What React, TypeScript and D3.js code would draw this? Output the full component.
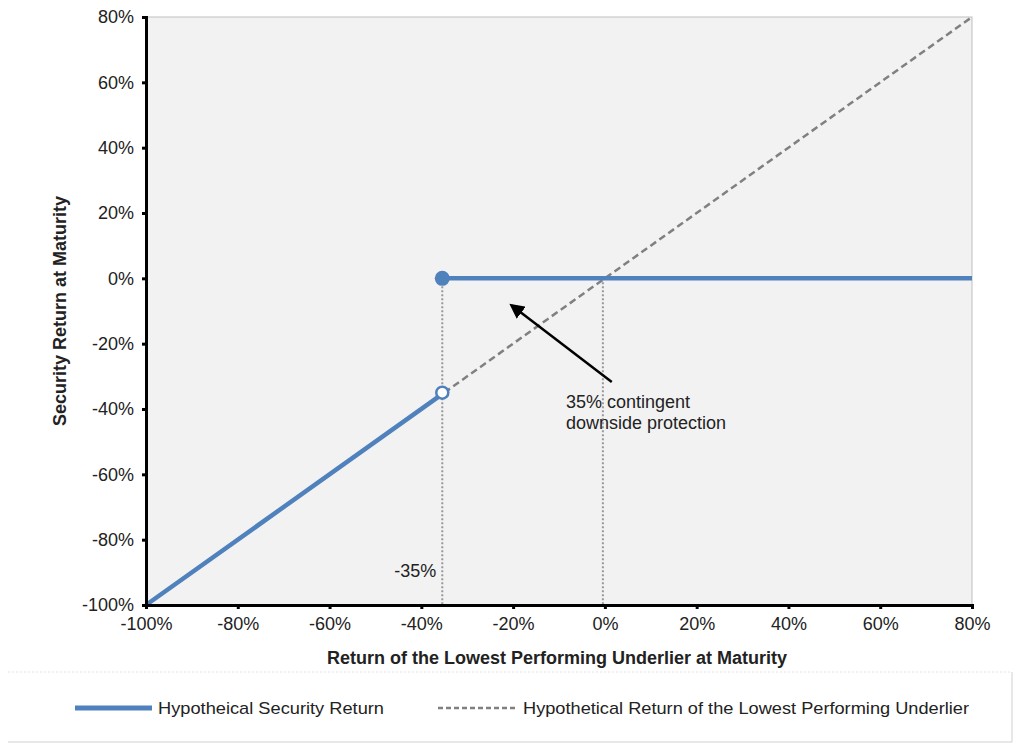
import * as d3 from "d3";
import { useEffect, useRef } from "react";

// payoff data (percent)
const securityLower: [number, number][] = [[-100, -100], [-35, -35]];
const securityUpper: [number, number][] = [[-35, 0], [80, 0]];
const underlier: [number, number][] = [[-35, -35], [80, 80]];
const barrierX = [-35, 0];
const xTicks = [-100, -80, -60, -40, -20, 0, 20, 40, 60, 80];
const yTicks = [-100, -80, -60, -40, -20, 0, 20, 40, 60, 80];

const BLUE = "#4f81bd";
const FONT = "Arial, 'Liberation Sans', sans-serif";
const FS = "18px";

const W = 1024;
const H = 745;
const margin = { left: 146, right: 52, top: 17, bottom: 140 };

export default function App() {
  const ref = useRef<SVGSVGElement>(null);

  useEffect(() => {
    const svg = d3.select(ref.current);
    svg.selectAll("*").remove();

    const x = d3.scaleLinear().domain([-100, 80]).range([margin.left, W - margin.right]);
    const y = d3.scaleLinear().domain([-100, 80]).range([H - margin.bottom, margin.top]);

    svg.append("rect").attr("width", W).attr("height", H).attr("fill", "#fff");

    // plot background with light frame
    svg
      .append("rect")
      .attr("x", x(-100))
      .attr("y", y(80))
      .attr("width", x(80) - x(-100))
      .attr("height", y(-100) - y(80))
      .attr("fill", "#f2f2f2")
      .attr("stroke", "#bfbfbf")
      .attr("stroke-width", 1);

    const defs = svg.append("defs");
    defs
      .append("marker")
      .attr("id", "arrowhead")
      .attr("viewBox", "0 0 10 10")
      .attr("refX", 8)
      .attr("refY", 5)
      .attr("markerWidth", 6)
      .attr("markerHeight", 6)
      .attr("markerUnits", "strokeWidth")
      .attr("orient", "auto")
      .append("path")
      .attr("d", "M0,0 L10,5 L0,10 z")
      .attr("fill", "#000");

    // dotted reference lines
    svg
      .selectAll("line.ref")
      .data(barrierX)
      .join("line")
      .attr("class", "ref")
      .attr("x1", (d) => x(d) - 2)
      .attr("x2", (d) => x(d) - 2)
      .attr("y1", y(0))
      .attr("y2", y(-100))
      .attr("stroke", "#999")
      .attr("stroke-width", 2)
      .attr("stroke-dasharray", "2,2");

    const line = d3
      .line<[number, number]>()
      .x((d) => x(d[0]))
      .y((d) => y(d[1]));

    // underlier dashed
    svg
      .append("path")
      .attr("d", line(underlier))
      .attr("fill", "none")
      .attr("stroke", "#808080")
      .attr("stroke-width", 2.5)
      .attr("stroke-dasharray", "7,4");

    // security lines
    [securityLower, securityUpper].forEach((seg) => {
      svg
        .append("path")
        .attr("d", line(seg))
        .attr("fill", "none")
        .attr("stroke", BLUE)
        .attr("stroke-width", 4.5);
    });

    svg
      .append("circle")
      .attr("cx", x(securityLower[1][0]) - 2)
      .attr("cy", y(securityLower[1][1]))
      .attr("r", 6)
      .attr("fill", "#fff")
      .attr("stroke", BLUE)
      .attr("stroke-width", 2.5);

    svg
      .append("circle")
      .attr("cx", x(securityUpper[0][0]) - 2)
      .attr("cy", y(securityUpper[0][1]))
      .attr("r", 7.5)
      .attr("fill", BLUE);

    // axes
    const xAxis = svg
      .append("g")
      .attr("transform", `translate(0,${y(-100)})`)
      .call(
        d3
          .axisBottom(x)
          .tickValues(xTicks)
          .tickSize(4)
          .tickFormat((d) => `${d}%`)
      );
    const yAxis = svg
      .append("g")
      .attr("transform", `translate(${x(-100)},0)`)
      .call(
        d3
          .axisLeft(y)
          .tickValues(yTicks)
          .tickSize(4)
          .tickFormat((d) => `${d}%`)
      );
    [xAxis, yAxis].forEach((g) => {
      g.attr("font-size", null).attr("font-family", null);
      g.select(".domain").attr("stroke", "#000").attr("stroke-width", 3);
      g.selectAll(".tick line").attr("stroke", "#000").attr("stroke-width", 3);
      g.selectAll(".tick text")
        .attr("fill", "#222")
        .style("font-family", FONT)
        .style("font-size", FS);
    });
    xAxis.selectAll(".tick text").attr("y", 10).attr("dy", "0.85em");
    yAxis.selectAll(".tick text").attr("x", -12);

    // axis titles
    svg
      .append("text")
      .attr("x", 557)
      .attr("y", 664)
      .attr("text-anchor", "middle")
      .style("font-family", FONT)
      .style("font-size", FS)
      .style("font-weight", "bold")
      .attr("fill", "#222")
      .text("Return of the Lowest Performing Underlier at Maturity");

    svg
      .append("text")
      .attr("transform", `translate(66,${y(-10)}) rotate(-90)`)
      .attr("text-anchor", "middle")
      .style("font-family", FONT)
      .style("font-size", FS)
      .style("font-weight", "bold")
      .attr("fill", "#222")
      .text("Security Return at Maturity");

    // annotations
    svg
      .append("text")
      .attr("x", x(-35) - 8)
      .attr("y", y(-91.5))
      .attr("text-anchor", "end")
      .style("font-family", FONT)
      .style("font-size", FS)
      .attr("fill", "#222")
      .text("-35%");

    svg
      .append("line")
      .attr("x1", x(1.5))
      .attr("y1", y(-31.7))
      .attr("x2", x(-20.3))
      .attr("y2", y(-8.3))
      .attr("stroke", "#000")
      .attr("stroke-width", 2.5)
      .attr("marker-end", "url(#arrowhead)");

    const note = svg
      .append("text")
      .style("font-family", FONT)
      .style("font-size", FS)
      .attr("fill", "#222");
    note.append("tspan").attr("x", x(-8.5)).attr("y", y(-39.8)).text("35% contingent");
    note.append("tspan").attr("x", x(-8.5)).attr("y", y(-46)).text("downside protection");

    // legend
    const lg = svg.append("g");
    lg.append("line")
      .attr("x1", 8)
      .attr("x2", 1012)
      .attr("y1", 672)
      .attr("y2", 672)
      .attr("stroke", "#e4e4e4")
      .attr("stroke-dasharray", "2,2");
    lg.append("line")
      .attr("x1", 8)
      .attr("x2", 1012)
      .attr("y1", 742)
      .attr("y2", 742)
      .attr("stroke", "#d0d0d0");
    lg.append("line")
      .attr("x1", 1012)
      .attr("x2", 1012)
      .attr("y1", 672)
      .attr("y2", 742)
      .attr("stroke", "#d0d0d0");

    lg.append("line")
      .attr("x1", 75)
      .attr("x2", 152)
      .attr("y1", 708)
      .attr("y2", 708)
      .attr("stroke", BLUE)
      .attr("stroke-width", 5);
    lg.append("text")
      .attr("x", 158)
      .attr("y", 714)
      .attr("textLength", 226)
      .attr("lengthAdjust", "spacingAndGlyphs")
      .style("font-family", FONT)
      .style("font-size", "17px")
      .attr("fill", "#222")
      .text("Hypotheical Security Return");

    lg.append("line")
      .attr("x1", 438)
      .attr("x2", 518)
      .attr("y1", 708)
      .attr("y2", 708)
      .attr("stroke", "#808080")
      .attr("stroke-width", 2.5)
      .attr("stroke-dasharray", "5,3");
    lg.append("text")
      .attr("x", 523)
      .attr("y", 714)
      .attr("textLength", 446)
      .attr("lengthAdjust", "spacingAndGlyphs")
      .style("font-family", FONT)
      .style("font-size", "17px")
      .attr("fill", "#222")
      .text("Hypothetical Return of the Lowest Performing Underlier");
  }, []);

  return (
    <div style={{ position: "absolute", left: 0, top: 0 }}>
      <svg ref={ref} width={W} height={H} style={{ display: "block" }} />
    </div>
  );
}
